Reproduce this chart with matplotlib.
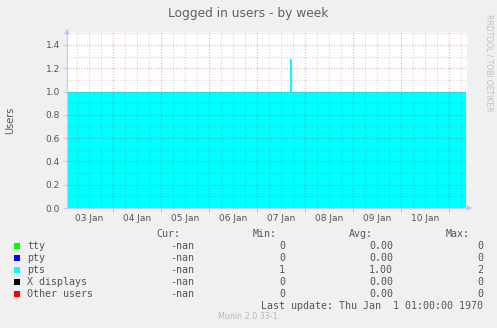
import matplotlib
matplotlib.use("Agg")
import matplotlib.pyplot as plt

W, H = 497, 328

# data (x in days since 03 Jan 00:00)
pts_t = [0.04, 4.69, 4.72, 8.35]
pts_v = [1.0, 1.28, 1.0, 1.0]
day_labels = ["03 Jan", "04 Jan", "05 Jan", "06 Jan", "07 Jan", "08 Jan", "09 Jan", "10 Jan"]
y_ticks = [0.0, 0.2, 0.4, 0.6, 0.8, 1.0, 1.2, 1.4]

series = ["tty", "pty", "pts", "X displays", "Other users"]
colors = ["#00ff00", "#0000ff", "#00ffff", "#000000", "#ff0000"]
cur = ["-nan", "-nan", "-nan", "-nan", "-nan"]
mins = ["0", "0", "1", "0", "0"]
avgs = ["0.00", "0.00", "1.00", "0.00", "0.00"]
maxs = ["0", "0", "2", "0", "0"]

TXT = "#555555"
MONO = "DejaVu Sans Mono"
MAJ = (0.85, 0.3, 0.3, 0.4)
MIN = (0.5, 0.5, 0.5, 0.28)

fig = plt.figure(figsize=(W / 100, H / 100), dpi=100, facecolor="#f0f0f0")


def px(x, y):
    return x / W, 1 - y / H


x0, x1, y0, y1 = 67, 467, 32, 208
ax = fig.add_axes([x0 / W, 1 - y1 / H, (x1 - x0) / W, (y1 - y0) / H])
ax.set_facecolor("white")
xmin, xmax = 0.042, 0.042 + 400 / 48
ymax = 176 / 116.5
ax.set_xlim(xmin, xmax)
ax.set_ylim(0, ymax)

ax.fill_between(pts_t, 0, pts_v, step="post", color="#00ffff", lw=0, zorder=2)

# grid, drawn over the area like rrdtool does
q = 0.25
while q < xmax:
    if q > xmin:
        is_day = abs(q - round(q)) < 1e-6
        ax.axvline(q, color=MAJ if is_day else MIN, lw=1.0,
                   ls=(0, (0.8, 1.2)), zorder=3)
    q += 0.25
for i in range(1, 16):
    v = i * 0.1
    if v < ymax:
        ax.axhline(v, color=MAJ if i % 2 == 0 else MIN, lw=1.0,
                   ls=(0, (0.8, 1.2)), zorder=3)

ax.axhline(0, color="#f09090", lw=1.0, zorder=4)

for s in ["top", "right"]:
    ax.spines[s].set_visible(False)
ax.spines["left"].set_color("#c8c8ff")
ax.spines["bottom"].set_color("#c8c8ff")
ax.spines["left"].set_linewidth(0.8)
ax.spines["bottom"].set_linewidth(0.8)
ax.annotate("", xy=(0, 1.035), xytext=(0, 0.99), xycoords="axes fraction",
            arrowprops=dict(arrowstyle="-|>", color="#c0c0ff", lw=0.6,
                            mutation_scale=8), annotation_clip=False)
ax.annotate("", xy=(1.02, 0), xytext=(0.995, 0), xycoords="axes fraction",
            arrowprops=dict(arrowstyle="-|>", color="#c0c0ff", lw=0.6,
                            mutation_scale=8), annotation_clip=False)

ax.set_yticks(y_ticks)
ax.set_yticklabels(["%.1f" % v for v in y_ticks])
ax.set_xticks([i + 0.5 for i in range(len(day_labels))])
ax.set_xticklabels(day_labels)
ax.set_xticks(list(range(1, 9)), minor=True)
ax.tick_params(axis="x", which="major", length=0, pad=4, labelsize=6.5, labelcolor=TXT)
ax.tick_params(axis="x", which="minor", length=3, color="#e0a0a0", direction="out")
ax.tick_params(axis="y", length=3, color="#c8c8ff", pad=2, labelsize=6.5, labelcolor=TXT)

fig.text(*px(248.5, 14), "Logged in users - by week", ha="center", va="center",
         fontsize=8.8, color="#606060")
fig.text(*px(10, 120), "Users", ha="center", va="center", rotation=90,
         fontsize=7, color=TXT)
fig.text(*px(489, 63), "RRDTOOL / TOBI OETIKER", ha="center", va="center",
         rotation=270, fontsize=5.5, color="#c0c0c0")

# legend table
fs = 7.2
fig.text(*px(180, 234), "Cur:", ha="right", va="center", fontsize=fs, family=MONO, color=TXT)
fig.text(*px(277, 234), "Min:", ha="right", va="center", fontsize=fs, family=MONO, color=TXT)
fig.text(*px(373, 234), "Avg:", ha="right", va="center", fontsize=fs, family=MONO, color=TXT)
fig.text(*px(470, 234), "Max:", ha="right", va="center", fontsize=fs, family=MONO, color=TXT)
rows_y = [245.7, 257.7, 269.7, 281.7, 293.7]
for i, name in enumerate(series):
    yy = rows_y[i]
    fig.patches.append(plt.Rectangle(px(14, yy + 3), 6 / W, 6 / H, transform=fig.transFigure,
                                     facecolor=colors[i], edgecolor="none"))
    fig.text(*px(27, yy), name, ha="left", va="center", fontsize=fs, family=MONO, color=TXT)
    fig.text(*px(194, yy), cur[i], ha="right", va="center", fontsize=fs, family=MONO, color=TXT)
    fig.text(*px(285, yy), mins[i], ha="right", va="center", fontsize=fs, family=MONO, color=TXT)
    fig.text(*px(393, yy), avgs[i], ha="right", va="center", fontsize=fs, family=MONO, color=TXT)
    fig.text(*px(483, yy), maxs[i], ha="right", va="center", fontsize=fs, family=MONO, color=TXT)
fig.text(*px(483, 305.7), "Last update: Thu Jan  1 01:00:00 1970", ha="right", va="center",
         fontsize=fs, family=MONO, color=TXT)
fig.text(*px(248, 316.7), "Munin 2.0.33-1", ha="center", va="center", fontsize=5.8,
         color="#b8b8b8")

fig.savefig("out.png", dpi=100, facecolor=fig.get_facecolor())
